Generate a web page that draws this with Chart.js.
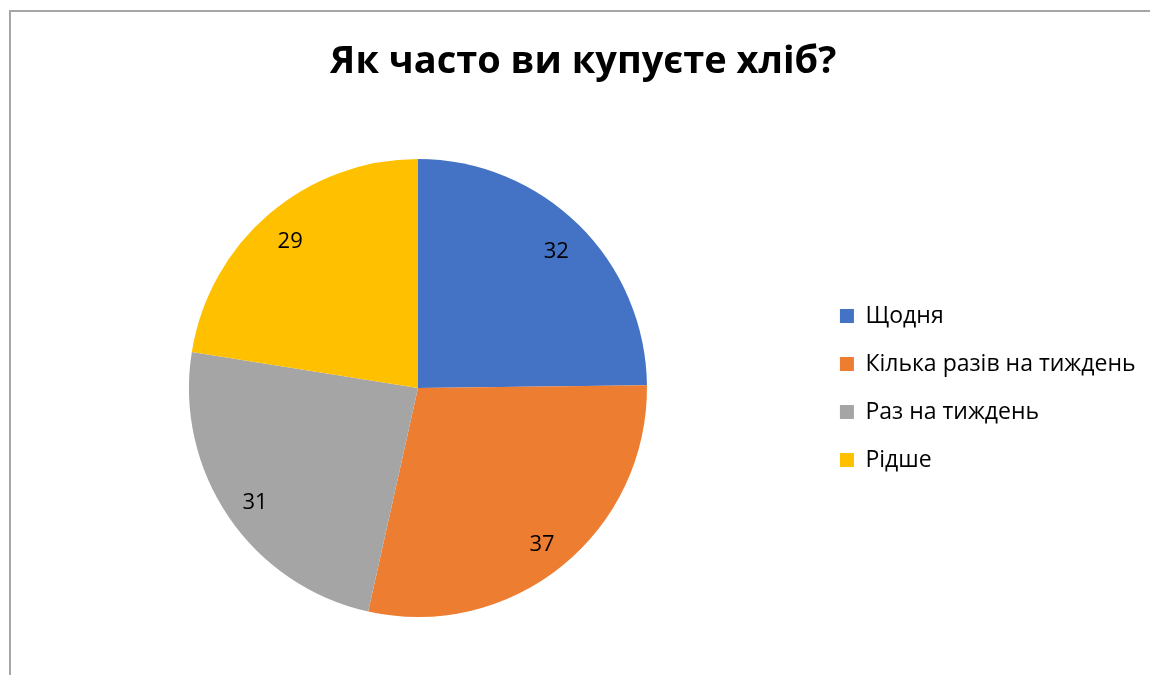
<!DOCTYPE html>
<html>
<head>
<meta charset="utf-8">
<title>Як часто ви купуєте хліб?</title>
<script src="https://cdn.jsdelivr.net/npm/chart.js@4.4.1/dist/chart.umd.min.js"></script>
<style>
  html, body { margin: 0; padding: 0; background: #fff; overflow: hidden; }
  #wrap { position: relative; width: 1150px; height: 675px; }
  #frame {
    position: absolute; left: 9px; top: 10px; width: 1160px; height: 680px;
    border-left: 2px solid #a6a6a6; border-top: 2px solid #a6a6a6;
    pointer-events: none;
  }
  canvas { position: absolute; left: 0; top: 0; }
</style>
</head>
<body>
<div id="wrap">
  <canvas id="pie" width="1150" height="675"></canvas>
  <div id="frame"></div>
</div>
<script>
  'use strict';

  var chartTitle = 'Як часто ви купуєте хліб?';
  var categories = ['Щодня', 'Кілька разів на тиждень', 'Раз на тиждень', 'Рідше'];
  var answers = [32, 37, 31, 29];
  var sliceColors = ['#4472C4', '#ED7D31', '#A5A5A5', '#FFC000'];

  var baseFont = "'Open Sans', 'Noto Sans', sans-serif";

  // prints each slice's value inside the slice, near the rim
  var sliceLabels = {
    id: 'sliceLabels',
    afterDatasetsDraw: function (chart) {
      var ctx = chart.ctx;
      var meta = chart.getDatasetMeta(0);
      var values = chart.data.datasets[0].data;
      ctx.save();
      ctx.font = '22px ' + baseFont;
      ctx.fillStyle = '#000';
      ctx.textAlign = 'center';
      ctx.textBaseline = 'middle';
      meta.data.forEach(function (arc, i) {
        var p = arc.getProps(['x', 'y', 'startAngle', 'endAngle', 'outerRadius'], true);
        var mid = (p.startAngle + p.endAngle) / 2;
        var r = p.outerRadius * 0.86;
        // 'middle' sits a little high for digits, nudge down
        ctx.fillText(String(values[i]), p.x + Math.cos(mid) * r, p.y + Math.sin(mid) * r + 4);
      });
      ctx.restore();
    }
  };

  var ctx = document.getElementById('pie').getContext('2d');
  window.breadPie = new Chart(ctx, {
    type: 'pie',
    data: {
      labels: categories,
      datasets: [{
        data: answers,
        backgroundColor: sliceColors,
        borderWidth: 0,
        radius: 229
      }]
    },
    options: {
      responsive: false,
      animation: false,
      events: [],
      layout: {
        padding: { left: 21, right: 4.5, top: 0, bottom: 9 }
      },
      plugins: {
        title: {
          display: true,
          text: chartTitle,
          color: '#000',
          font: { family: baseFont, size: 38, weight: 'bold', lineHeight: 1.2 },
          padding: { top: 39, bottom: 25.4 }
        },
        legend: {
          position: 'right',
          fullSize: false,
          labels: {
            color: '#000',
            font: { family: baseFont, size: 23 },
            boxWidth: 14,
            boxHeight: 14,
            padding: 25
          }
        },
        tooltip: { enabled: false }
      }
    },
    plugins: [sliceLabels]
  });
</script>
</body>
</html>
